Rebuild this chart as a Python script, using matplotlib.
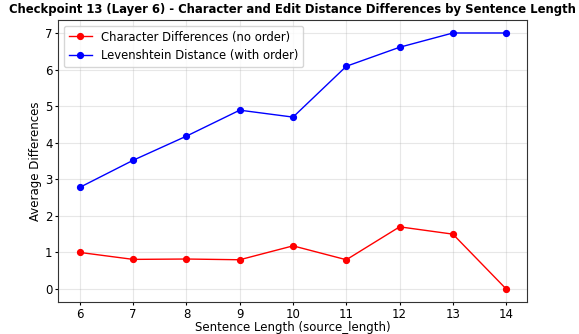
import matplotlib.pyplot as plt

# average differences per sentence length
lengths = [6, 7, 8, 9, 10, 11, 12, 13, 14]
char_diff = [1.00, 0.81, 0.82, 0.80, 1.18, 0.80, 1.70, 1.50, 0.00]
lev_dist = [2.78, 3.52, 4.18, 4.89, 4.70, 6.09, 6.61, 7.00, 7.00]

fig = plt.figure(figsize=(5.79, 3.34), dpi=100)
ax = fig.add_axes([58 / 579, 1 - 302 / 334, (527 - 58) / 579, (302 - 20) / 334])

ax.plot(lengths, char_diff, 'o-', color='red', lw=1, ms=4.2,
        label='Character Differences (no order)')
ax.plot(lengths, lev_dist, 'o-', color='blue', lw=1, ms=4.2,
        label='Levenshtein Distance (with order)')

ax.set_xticks(lengths)
ax.set_yticks(range(0, 8))
ax.set_ylim(-0.355, 7.355)
ax.set_xlim(5.59, 14.39)
ax.tick_params(labelsize=8.5, length=2, pad=2)
ax.grid(True, alpha=0.3)
for s in ax.spines.values():
    s.set_color('#333333')

ax.set_title('Checkpoint 13 (Layer 6) - Character and Edit Distance Differences by Sentence Length',
             fontsize=8.35, fontweight='bold', pad=5)
ax.set_xlabel('Sentence Length (source_length)', fontsize=8.5, labelpad=0)
ax.set_ylabel('Average Differences', fontsize=8.5, labelpad=2)
ax.legend(loc='upper left', fontsize=8.4, handlelength=2)

fig.savefig('out.png', dpi=100)
